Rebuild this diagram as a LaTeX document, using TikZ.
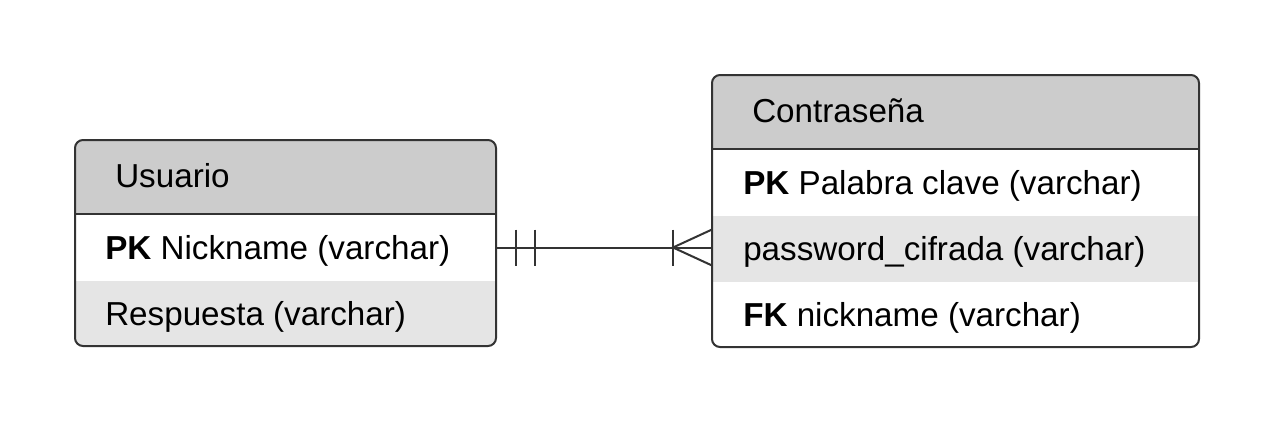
\documentclass[tikz,border=0pt]{standalone}
\usepackage{fontspec}
\setmainfont{Liberation Sans}
\definecolor{hdrgrey}{HTML}{CCCCCC}
\definecolor{altgrey}{HTML}{E5E5E5}
\definecolor{edge}{HTML}{333333}
\tikzset{
  rowbox/.style={draw=none, inner sep=0pt, outer sep=0pt, anchor=north west},
  txt/.style={anchor=base west, inner sep=0pt, font=\fontsize{24.9}{30}\selectfont, text=black},
  border/.style={draw=edge, line width=1.5pt, rounded corners=6pt},
  conn/.style={draw=edge, line width=1.5pt},
}
\begin{document}
\begin{tikzpicture}[x=0.75pt, y=-0.75pt]
\useasboundingbox (0,0) rectangle (1275,422);
\fill[white] (0,0) rectangle (1275,422);
% ---- Usuario table ----
\begin{scope}
\clip[rounded corners=6pt] (75,140) rectangle (496,346);
\node[rowbox, fill=hdrgrey, minimum width=421*0.75pt, minimum height=74*0.75pt] (uhead) at (75,140) {};
\node[rowbox, fill=white, minimum width=421*0.75pt, minimum height=67*0.75pt] (urow1) at (75,214) {};
\node[rowbox, fill=altgrey, minimum width=421*0.75pt, minimum height=65*0.75pt] (urow2) at (75,281) {};
\end{scope}
\draw[conn] (uhead.south west) -- (uhead.south east);
\draw[border] (75,140) rectangle (496,346);
\node[txt] (ut) at (115,187) {Usuario};
\node[txt] (u1) at (105,259) {\textbf{PK} Nickname (varchar)};
\node[txt] (u2) at (105,325) {Respuesta (varchar)};
% ---- Contrasena table ----
\begin{scope}
\clip[rounded corners=6pt] (712,75) rectangle (1199,347);
\node[rowbox, fill=hdrgrey, minimum width=487*0.75pt, minimum height=74*0.75pt] (chead) at (712,75) {};
\node[rowbox, fill=white, minimum width=487*0.75pt, minimum height=67*0.75pt] (crow1) at (712,149) {};
\node[rowbox, fill=altgrey, minimum width=487*0.75pt, minimum height=66*0.75pt] (crow2) at (712,216) {};
\node[rowbox, fill=white, minimum width=487*0.75pt, minimum height=65*0.75pt] (crow3) at (712,282) {};
\end{scope}
\draw[conn] (chead.south west) -- (chead.south east);
\draw[border] (712,75) rectangle (1199,347);
\node[txt] (ct) at (752,122) {Contraseña};
\node[txt] (c1) at (743,194) {\textbf{PK} Palabra clave (varchar)};
\node[txt] (c2) at (743,260) {password\_cifrada (varchar)};
\node[txt] (c3) at (743,326) {\textbf{FK} nickname (varchar)};
% ---- connector ----
\coordinate (cend) at (urow1.east -| crow2.west);
\draw[conn] (urow1.east) -- (cend);
\draw[conn] ([xshift=20*0.75pt, yshift=18*0.75pt]urow1.east) -- ([xshift=20*0.75pt, yshift=-18*0.75pt]urow1.east);
\draw[conn] ([xshift=39*0.75pt, yshift=18*0.75pt]urow1.east) -- ([xshift=39*0.75pt, yshift=-18*0.75pt]urow1.east);
\draw[conn] ([xshift=-39*0.75pt, yshift=18*0.75pt]cend) -- ([xshift=-39*0.75pt, yshift=-18*0.75pt]cend);
\draw[conn] ([yshift=18*0.75pt]cend) -- ([xshift=-39*0.75pt]cend) -- ([yshift=-18*0.75pt]cend);
\end{tikzpicture}
\end{document}
